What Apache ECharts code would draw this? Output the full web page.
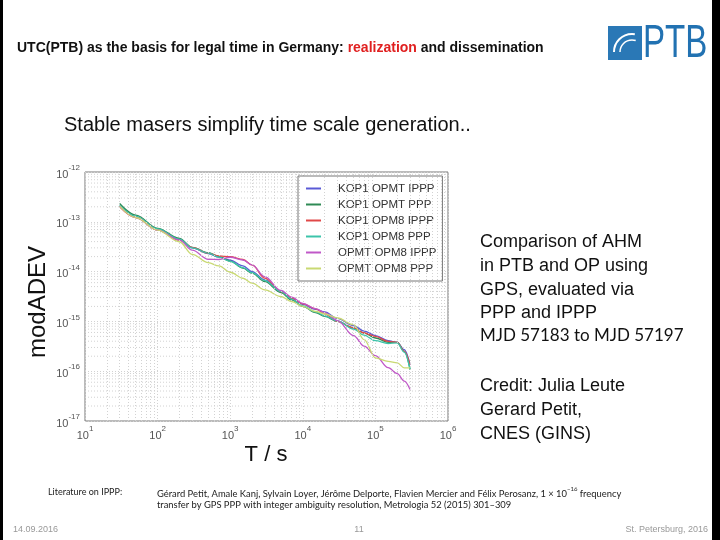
<!DOCTYPE html>
<html><head><meta charset="utf-8">
<script src="https://cdn.jsdelivr.net/npm/echarts@6/dist/echarts.min.js"></script>
<style>html,body{margin:0;padding:0;background:#fff}#c{width:720px;height:540px}</style>
</head><body><div id="c"></div>
<script>
// averaging time tau (s)
const tau = [30,50,100,200,300,500,700,1000,1500,2000,3000,5000,7000,1e4,1.5e4,2e4,3e4,5e4,7e4,1e5,1.5e5,2e5,2.5e5,3e5];
const seriesNames = ['KOP1 OPMT IPPP','KOP1 OPMT PPP','KOP1 OPM8 IPPP','KOP1 OPM8 PPP','OPMT OPM8 IPPP','OPMT OPM8 PPP'];
const kop1OpmtIppp = [2.06e-13,1.25e-13,6.9e-14,4.4e-14,3.0e-14,2.3e-14,1.95e-14,1.7e-14,1.3e-14,1.0e-14,6.8e-15,4.0e-15,2.9e-15,2.2e-15,1.75e-15,1.55e-15,1.15e-15,8.2e-16,6.4e-16,5.2e-16,4.1e-16,3.8e-16,2.7e-16,1.35e-16];
const kop1OpmtPpp  = [2.33e-13,1.36e-13,7.4e-14,4.64e-14,3.07e-14,2.4e-14,2.0e-14,1.63e-14,1.17e-14,9.3e-15,6.3e-15,3.8e-15,2.7e-15,2.0e-15,1.51e-15,1.26e-15,1.0e-15,7.4e-16,5.85e-16,4.64e-16,3.8e-16,3.8e-16,2.5e-16,1.08e-16];
const kop1Opm8Ippp = [2.0e-13,1.22e-13,6.8e-14,4.3e-14,3.07e-14,2.33e-14,2.06e-14,2.0e-14,1.75e-14,1.36e-14,7.4e-15,3.98e-15,2.93e-15,2.26e-15,1.79e-15,1.42e-15,1.0e-15,7.4e-16,5.85e-16,5.0e-16,3.98e-16,3.8e-16,2.5e-16,1.36e-16];
const kop1Opm8Ppp  = [2.15e-13,1.3e-13,7.2e-14,4.5e-14,3.0e-14,2.35e-14,1.95e-14,1.6e-14,1.2e-14,9.5e-15,6.6e-15,4.0e-15,2.8e-15,2.05e-15,1.55e-15,1.3e-15,1.02e-15,7.0e-16,5.3e-16,4.1e-16,3.6e-16,3.7e-16,2.4e-16,1.1e-16];
const opmtOpm8Ippp = [2.06e-13,1.22e-13,6.8e-14,4.3e-14,2.71e-14,1.77e-14,1.75e-14,1.94e-14,1.71e-14,1.36e-14,7.94e-15,4.17e-15,3.07e-15,2.3e-15,1.8e-15,1.5e-15,1.04e-15,5.2e-16,3.2e-16,2.06e-16,1.18e-16,8.9e-17,6.3e-17,4.3e-17];
const opmtOpm8Ppp  = [2.06e-13,1.22e-13,6.8e-14,3.98e-14,2.22e-14,1.51e-14,1.3e-14,9.7e-15,7.36e-15,5.85e-15,4.3e-15,3.16e-15,2.51e-15,2.0e-15,1.58e-15,1.42e-15,1.17e-15,8.58e-16,4.3e-16,1.85e-16,1.58e-16,1.47e-16,1.17e-16,1.17e-16];
const seriesValues = [kop1OpmtIppp,kop1OpmtPpp,kop1Opm8Ippp,kop1Opm8Ppp,opmtOpm8Ippp,opmtOpm8Ppp];
const seriesColors = ['#5a5ad6','#2f8a55','#e04848','#3cc4aa','#c058c8','#c9d972'];
const xTickLabels = ['10^1','10^2','10^3','10^4','10^5','10^6'];
const yTickLabels = ['10^-17','10^-16','10^-15','10^-14','10^-13','10^-12'];

// minor grid positions (2..9 per decade)
const minorX = [], minorY = [];
for (let d = 1; d < 6; d++) for (let k = 2; k <= 9; k++) minorX.push({xAxis: k * Math.pow(10, d)});
for (let d = -17; d < -12; d++) for (let k = 2; k <= 9; k++) minorY.push(k * Math.pow(10, d));

function supLabel(v) {
  const e = Math.round(Math.log10(v));
  return '{b|10}{s|' + e + '}';
}
const tickRich = {
  b: {fontSize: 11, color: '#555', fontFamily: 'Liberation Sans', verticalAlign: 'bottom', lineHeight: 16},
  s: {fontSize: 8, color: '#555', fontFamily: 'Liberation Sans', verticalAlign: 'top', lineHeight: 16}
};
const gridLine = {color: '#d2d2d2', type: [1, 2], width: 1};

const chart = echarts.init(document.getElementById('c'), null, {renderer: 'canvas'});
const series = [{
  type: 'line', data: [[10, 1e-17], [1e6, 1e-12]], silent: true, z: 1, showSymbol: false,
  lineStyle: {opacity: 0}, itemStyle: {opacity: 0}, tooltip: {show: false},
  markLine: {silent: true, symbol: ['none','none'], label: {show: false}, animation: false,
    lineStyle: gridLine, emphasis: {disabled: true}, data: minorX}
}];
minorY.forEach(v => series.push({
  type: 'line', data: [[10, v], [1e6, v]], silent: true, z: 1, showSymbol: false,
  lineStyle: gridLine, tooltip: {show: false}, emphasis: {disabled: true}
}));
seriesNames.forEach((n, i) => {
  series.push({
    name: n, type: 'line', showSymbol: false, smooth: 0.35, smoothMonotone: 'x', z: 3,
    lineStyle: {width: 1.3, color: seriesColors[i]}, itemStyle: {color: seriesColors[i]},
    data: tau.map((t, j) => [t, seriesValues[i][j]])
  });
});

chart.setOption({
  animation: false,
  backgroundColor: '#fff',
  grid: {left: 85, top: 172, right: 272, bottom: 119, show: true, borderColor: '#777', borderWidth: 1, backgroundColor: '#fff'},
  xAxis: {type: 'log', logBase: 10, min: 10, max: 1e6, splitNumber: 5,
    axisLine: {show: false}, axisTick: {show: false},
    splitLine: {show: true, lineStyle: gridLine},
    axisLabel: {formatter: supLabel, rich: tickRich, margin: 4}},
  yAxis: {type: 'log', logBase: 10, min: 1e-17, max: 1e-12, splitNumber: 5,
    axisLine: {show: false}, axisTick: {show: false},
    splitLine: {show: true, lineStyle: gridLine},
    axisLabel: {formatter: supLabel, rich: tickRich, margin: 5}},
  legend: {
    data: seriesNames, orient: 'vertical', left: 298, top: 176,
    backgroundColor: '#fff', borderColor: '#777', borderWidth: 1,
    padding: [6, 6, 6, 8], itemGap: 3, itemWidth: 15, itemHeight: 2, icon: 'rect',
    textStyle: {fontFamily: 'Liberation Sans', fontSize: 11.5, color: '#333', padding: [0, 0, 0, 12], lineHeight: 13}
  },
  series: series,
  graphic: {elements: [
    {type: 'rect', shape: {x: 0, y: 0, width: 3, height: 540}, style: {fill: '#000'}},
    {type: 'rect', shape: {x: 712, y: 0, width: 8, height: 540}, style: {fill: '#000'}},
    {type: 'text', x: 17, y: 48, style: {
      text: '{k|UTC(PTB) as the basis for legal time in Germany: }{r|realization}{k| and dissemination}',
      verticalAlign: 'middle',
      rich: {k: {font: 'bold 14px Liberation Sans', fill: '#111'}, r: {font: 'bold 14px Liberation Sans', fill: '#e02020'}}}},
    {type: 'rect', shape: {x: 608, y: 26, width: 34, height: 34}, style: {fill: '#2a78b6'}},
    {type: 'arc', shape: {cx: 632, cy: 52, r: 18, startAngle: Math.PI * 1.0, endAngle: Math.PI * 1.55}, style: {stroke: '#fff', lineWidth: 2, fill: null}},
    {type: 'arc', shape: {cx: 632, cy: 52, r: 12, startAngle: Math.PI * 1.0, endAngle: Math.PI * 1.6}, style: {stroke: '#fff', lineWidth: 1.5, fill: null}},
    {type: 'text', x: 643, y: 44, scaleX: 0.72, style: {text: 'PTB', font: '46px Liberation Sans', fill: '#2272b2', verticalAlign: 'middle'}},
    {type: 'text', x: 64, y: 125, style: {text: 'Stable masers simplify time scale generation..', font: '20px Liberation Sans', fill: '#111', verticalAlign: 'middle'}},
    {type: 'text', x: 38, y: 302, rotation: Math.PI / 2, style: {text: 'modADEV', font: '24px Liberation Sans', fill: '#111', align: 'center', verticalAlign: 'middle'}},
    {type: 'text', x: 266, y: 455, style: {text: 'T / s', font: '22px Liberation Sans', fill: '#111', align: 'center', verticalAlign: 'middle'}},
    {type: 'text', x: 480, y: 242, style: {text: 'Comparison of AHM', font: '18px Liberation Sans', fill: '#111', verticalAlign: 'middle'}},
    {type: 'text', x: 480, y: 266, style: {text: 'in PTB and OP using', font: '18px Liberation Sans', fill: '#111', verticalAlign: 'middle'}},
    {type: 'text', x: 480, y: 290, style: {text: 'GPS, evaluated via', font: '18px Liberation Sans', fill: '#111', verticalAlign: 'middle'}},
    {type: 'text', x: 480, y: 313, style: {text: 'PPP and IPPP', font: '18px Liberation Sans', fill: '#111', verticalAlign: 'middle'}},
    {type: 'text', x: 480, y: 336, style: {text: 'MJD 57183 to MJD 57197', font: '17px Lato', fill: '#111', verticalAlign: 'middle'}},
    {type: 'text', x: 480, y: 386, style: {text: 'Credit: Julia Leute', font: '18px Liberation Sans', fill: '#111', verticalAlign: 'middle'}},
    {type: 'text', x: 480, y: 410, style: {text: 'Gerard Petit,', font: '18px Liberation Sans', fill: '#111', verticalAlign: 'middle'}},
    {type: 'text', x: 480, y: 434, style: {text: 'CNES (GINS)', font: '18px Liberation Sans', fill: '#111', verticalAlign: 'middle'}},
    {type: 'text', x: 48, y: 492, style: {text: 'Literature on IPPP:', font: '9px Lato', fill: '#222', verticalAlign: 'middle'}},
    {type: 'text', x: 157, y: 492, style: {
      text: '{t|Gérard Petit, Amale Kanj, Sylvain Loyer, Jérôme Delporte, Flavien Mercier and Félix Perosanz, 1 × 10}{s|−16}{t| frequency}',
      verticalAlign: 'middle',
      rich: {t: {font: '9.4px Lato', fill: '#222', verticalAlign: 'bottom', lineHeight: 12}, s: {font: '6px Lato', fill: '#222', verticalAlign: 'top', lineHeight: 12}}}},
    {type: 'text', x: 157, y: 505, style: {text: 'transfer by GPS PPP with integer ambiguity resolution, Metrologia 52 (2015) 301–309', font: '9.4px Lato', fill: '#222', verticalAlign: 'middle'}},
    {type: 'text', x: 13, y: 530, style: {text: '14.09.2016', font: '9px Liberation Sans', fill: '#999', verticalAlign: 'middle'}},
    {type: 'text', x: 359, y: 530, style: {text: '11', font: '9px Liberation Sans', fill: '#999', align: 'center', verticalAlign: 'middle'}},
    {type: 'text', x: 708, y: 530, style: {text: 'St. Petersburg, 2016', font: '9px Liberation Sans', fill: '#999', align: 'right', verticalAlign: 'middle'}}
  ]}
});
</script>
</body></html>
